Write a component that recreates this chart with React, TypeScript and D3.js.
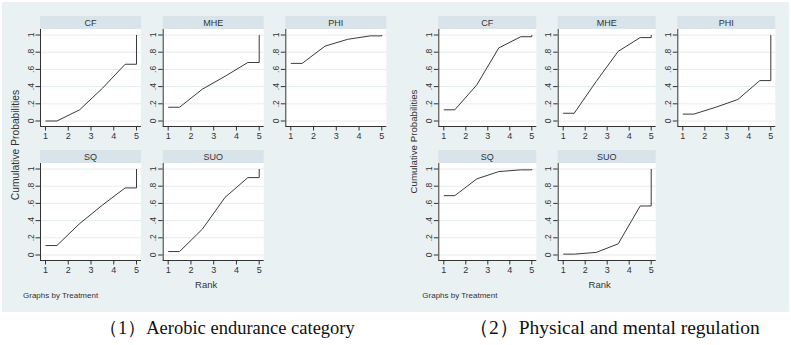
import React from 'react';
import * as d3 from 'd3';

// ranks on the x axis, cumulative probabilities on the y axis
const rankTicks = [1, 2, 3, 4, 5];
const probTicks = [0, 0.2, 0.4, 0.6, 0.8, 1];
const probTickLabels = ['0', '.2', '.4', '.6', '.8', '1'];
const treatments = ['CF', 'MHE', 'PHI', 'SQ', 'SUO'];

// (1) aerobic endurance: cumulative probability for rank 1..5
const aerobicCF = [0, 0.13, 0.38, 0.66, 1];
const aerobicMHE = [0.16, 0.37, 0.52, 0.68, 1];
const aerobicPHI = [0.67, 0.87, 0.95, 0.99, 1];
const aerobicSQ = [0.11, 0.365, 0.58, 0.78, 1];
const aerobicSUO = [0.04, 0.3, 0.67, 0.9, 1];

// (2) physical and mental regulation
const regulationCF = [0.13, 0.42, 0.85, 0.98, 1];
const regulationMHE = [0.09, 0.46, 0.81, 0.97, 1];
const regulationPHI = [0.08, 0.16, 0.25, 0.47, 1];
const regulationSQ = [0.69, 0.885, 0.97, 0.99, 1];
const regulationSUO = [0.01, 0.03, 0.13, 0.57, 1];

const captions = ['（1）Aerobic endurance category', '（2）Physical and mental regulation'];

const BG = '#eaf1f3';
const STRIP = '#d8e3ea';
const GRID = '#e4ecef';
const INK = '#333';
const SANS = '"Liberation Sans", Arial, sans-serif';

// layout of the two Stata graphs
const figures = [
  {
    series: [aerobicCF, aerobicMHE, aerobicPHI, aerobicSQ, aerobicSUO],
    colLefts: [40, 162.7, 285.3],
    colWidth: 101,
    yTitleX: 15,
    yTitleY: 145,
    yTitleSize: 10.3,
    byX: 23,
    caption: captions[0],
    captionX: 99,
    captionSize: 18.5,
  },
  {
    series: [regulationCF, regulationMHE, regulationPHI, regulationSQ, regulationSUO],
    colLefts: [438.3, 557.7, 677.3],
    colWidth: 98,
    yTitleX: 413,
    yTitleY: 141.5,
    yTitleSize: 9.7,
    byX: 422.3,
    caption: captions[1],
    captionX: 469,
    captionSize: 19.5,
  },
];
const rowTops = [16, 150];
const stripH = 13;
const plotH = 98;

// Stata draws the step: flat to 1.5, midpoints, flat to 5, then up to 1
const curvePoints = (v: number[]): [number, number][] => [
  [1, v[0]],
  ...v.slice(0, 4).map((p, i) => [i + 1.5, p] as [number, number]),
  [5, v[3]],
  [5, v[4]],
];

function Panel({ left, top, width, label, values }: any) {
  const plotTop = top + stripH;
  const bottom = plotTop + plotH - 0.5;
  const x = d3.scaleLinear().domain([1, 5]).range([left + 5.5, left + width - 4.5]);
  const y = d3.scaleLinear().domain([0, 1]).range([plotTop + plotH - 6, plotTop + 6]);
  const line = d3.line<[number, number]>().x(d => x(d[0])).y(d => y(d[1]));

  return (
    <g>
      <rect x={left} y={top} width={width} height={stripH} fill={STRIP} />
      <text x={left + width / 2} y={top + 10} textAnchor="middle" fontSize={9} fontFamily={SANS} fill={INK}>
        {label}
      </text>
      <rect x={left} y={plotTop} width={width} height={plotH} fill="#fff" />
      {probTicks.map(t => (
        <line key={t} x1={left} x2={left + width} y1={y(t)} y2={y(t)} stroke={GRID} strokeWidth={1} />
      ))}
      <path d={line(curvePoints(values)) || ''} fill="none" stroke="#3a3a3a" strokeWidth={1} />
      {/* y axis */}
      <line x1={left + 0.5} x2={left + 0.5} y1={plotTop} y2={bottom} stroke={INK} strokeWidth={1} />
      {probTicks.map((t, i) => (
        <g key={t}>
          <line x1={left - 4.5} x2={left} y1={y(t)} y2={y(t)} stroke={INK} strokeWidth={1} />
          <text
            transform={`translate(${left - 6.5},${y(t)}) rotate(-90)`}
            textAnchor="middle"
            fontSize={8.5}
            fontFamily={SANS}
            fill={INK}
          >
            {probTickLabels[i]}
          </text>
        </g>
      ))}
      {/* x axis */}
      <line x1={left} x2={left + width} y1={bottom} y2={bottom} stroke={INK} strokeWidth={1} />
      {rankTicks.map(t => (
        <g key={t}>
          <line x1={x(t)} x2={x(t)} y1={bottom} y2={bottom + 4} stroke={INK} strokeWidth={1} />
          <text x={x(t)} y={bottom + 12.5} textAnchor="middle" fontSize={9} fontFamily={SANS} fill={INK}>
            {t}
          </text>
        </g>
      ))}
    </g>
  );
}

export default function App() {
  return (
    <>
      <style>{'body{margin:0}'}</style>
      <svg width={791} height={345} style={{ display: 'block' }}>
        <rect width={791} height={345} fill="#fff" />
        <rect x={2} y={2} width={787} height={310} fill={BG} />
        {figures.map((f, fi) => (
          <g key={fi}>
            {treatments.map((name, i) => (
              <Panel
                key={name}
                left={f.colLefts[i % 3]}
                top={rowTops[Math.floor(i / 3)]}
                width={f.colWidth}
                label={name}
                values={f.series[i]}
              />
            ))}
            <text
              transform={`translate(${f.yTitleX + 3.5},${f.yTitleY}) rotate(-90)`}
              textAnchor="middle"
              fontSize={f.yTitleSize}
              fontFamily={SANS}
              fill={INK}
            >
              Cumulative Probabilities
            </text>
            <text
              x={f.colLefts[1] + f.colWidth / 2 - 7}
              y={288}
              textAnchor="middle"
              fontSize={9.5}
              fontFamily={SANS}
              fill={INK}
            >
              Rank
            </text>
            <text x={f.byX} y={297.5} fontSize={8} fontFamily={SANS} fill={INK}>
              Graphs by Treatment
            </text>
            <text
              x={f.captionX}
              y={334}
              fontSize={f.captionSize}
              fontFamily={'"Liberation Serif", "Times New Roman", serif'}
              fill="#111"
            >
              {f.caption}
            </text>
          </g>
        ))}
      </svg>
    </>
  );
}
